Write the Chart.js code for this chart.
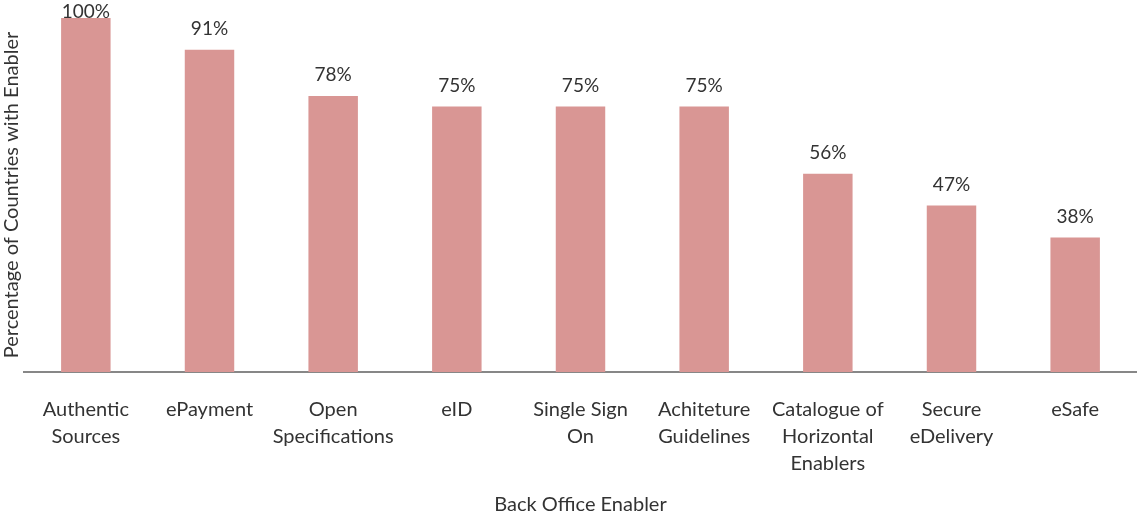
<!DOCTYPE html>
<html><head><meta charset="utf-8">
<script src="https://cdn.jsdelivr.net/npm/chart.js@4/dist/chart.umd.min.js"></script>
<style>html,body{margin:0;padding:0;background:#fff}#wrap{width:1137px;height:517px}</style>
</head><body><div id="wrap"><canvas id="c" width="1137" height="517"></canvas></div>
<script>
const categories = [
  ['Authentic','Sources'], ['ePayment'], ['Open','Specifications'], ['eID'],
  ['Single Sign','On'], ['Achiteture','Guidelines'], ['Catalogue of','Horizontal','Enablers'],
  ['Secure','eDelivery'], ['eSafe']
];
const values = [100, 91, 78, 75, 75, 75, 56, 47, 38];
const xTitle = 'Back Office Enabler';
const yTitle = 'Percentage of Countries with Enabler';

const FONT = 'Lato, "Open Sans", sans-serif';
const labelPlugin = {
  id: 'valLabels',
  afterDatasetsDraw(chart) {
    const ctx = chart.ctx;
    const meta = chart.getDatasetMeta(0);
    ctx.save();
    ctx.font = '19px ' + FONT;
    ctx.fillStyle = '#333333';
    ctx.textAlign = 'center';
    ctx.textBaseline = 'middle';
    meta.data.forEach((bar, i) => {
      const y = Math.max(bar.y - 21, 12);
      ctx.fillText(values[i] + '%', bar.x, y);
    });
    ctx.restore();
  }
};

new Chart(document.getElementById('c'), {
  type: 'bar',
  data: { labels: categories, datasets: [{ data: values, backgroundColor: '#D99694', borderWidth: 0, barPercentage: 0.4, categoryPercentage: 1.0 }] },
  options: {
    responsive: false, animation: false, devicePixelRatio: 1,
    layout: { padding: { top: 18, right: 0, bottom: 0, left: 0 } },
    plugins: { legend: { display: false }, tooltip: { enabled: false } },
    scales: {
      x: {
        grid: { display: false, drawTicks: false },
        border: { display: true, color: '#878787', width: 2 },
        ticks: { color: '#333333', font: { family: FONT, size: 20, lineHeight: 1.35 }, padding: 24, maxRotation: 0, autoSkip: false },
        title: { display: true, text: xTitle, color: '#333333', font: { family: FONT, size: 20, lineHeight: 1.2 }, padding: { top: 0, bottom: 0 } },
        afterFit(s) { s.height = 145; }
      },
      y: {
        min: 0, max: 100,
        grid: { display: false, drawTicks: false },
        border: { display: false },
        ticks: { display: false },
        title: { display: true, text: yTitle, color: '#333333', font: { family: FONT, size: 20, lineHeight: 1.2 }, padding: { top: 0, bottom: 0 } }
      }
    }
  },
  plugins: [labelPlugin]
});
</script></body></html>
